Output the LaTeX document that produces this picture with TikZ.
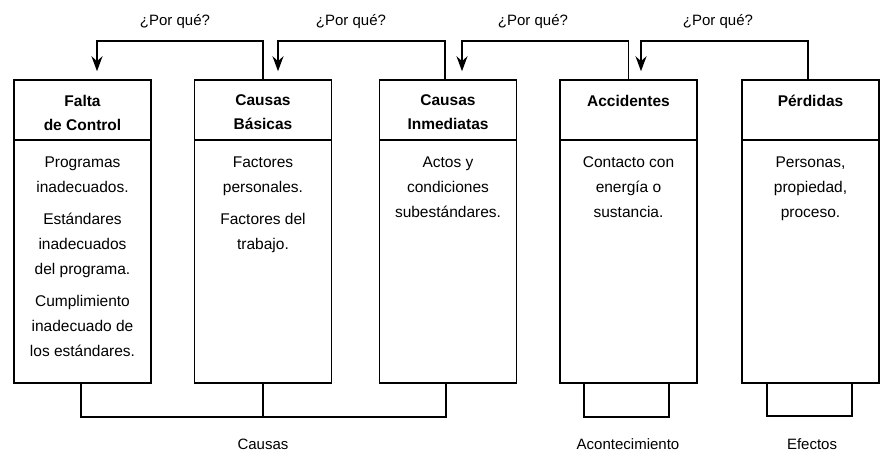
\documentclass[tikz,border=0pt]{standalone}
\usepackage{fontspec}
\setmainfont{Liberation Sans}
\usetikzlibrary{arrows.meta,calc}
\begin{document}
\begin{tikzpicture}[x=1pt,y=-1pt,
  line width=1.5pt,
  hdr/.style={draw,rectangle,minimum width=137pt,minimum height=60pt,inner sep=0pt},
  bod/.style={draw,rectangle,minimum width=137pt,minimum height=243pt,inner sep=0pt},
  ttl/.style={anchor=north,align=center,font=\fontsize{15.5}{24}\selectfont\bfseries,inner sep=0pt},
  txt/.style={anchor=north,align=center,font=\fontsize{15.5}{25}\selectfont,inner sep=0pt},
  lbl/.style={font=\fontsize{15}{18}\selectfont,inner sep=0pt},
  arr/.style={-{Stealth[length=15pt,width=11pt]}},
  brk/.style={line width=1.5pt}
]
\useasboundingbox (0,0) rectangle (880,453);
% boxes
\foreach \n/\cx in {1/82.5,2/263,3/448,4/628.5,5/810.5}{
  \node[hdr] (h\n) at (\cx,110) {};
  \node[bod] (b\n) at (\cx,261.5) {};
}
% titles
\node[ttl] (t1) at ($(h1.north)+(0,15)$) {Falta\\de Control};
\node[ttl] (t2) at ($(h2.north)+(0,15)$) {Causas\\Básicas};
\node[ttl] (t3) at ($(h3.north)+(0,15)$) {Causas\\Inmediatas};
\node[ttl] (t4) at ($(h4.north)+(0,15)$) {Accidentes};
\node[ttl] (t5) at ($(h5.north)+(0,15)$) {Pérdidas};
% body texts
\node[txt] (x1a) at ($(b1.north)+(0,17)$) {Programas\\inadecuados.};
\node[txt] (x1b) at ($(b1.north)+(0,73)$) {Estándares\\inadecuados\\del programa.};
\node[txt] (x1c) at ($(b1.north)+(0,155)$) {Cumplimiento\\inadecuado de\\los estándares.};
\node[txt] (x2a) at ($(b2.north)+(0,17)$) {Factores\\personales.};
\node[txt] (x2b) at ($(b2.north)+(0,73)$) {Factores del\\trabajo.};
\node[txt] (x3) at ($(b3.north)+(0,17)$) {Actos y\\condiciones\\subestándares.};
\node[txt] (x4) at ($(b4.north)+(0,17)$) {Contacto con\\energía o\\sustancia.};
\node[txt] (x5) at ($(b5.north)+(0,17)$) {Personas,\\propiedad,\\proceso.};
% top arrows
\coordinate (a1) at ($(h1.north)+(14.5,-8)$);
\coordinate (a2) at ($(h2.north)+(15,-8)$);
\coordinate (a3) at ($(h3.north)+(14,-8)$);
\coordinate (a4) at ($(h4.north)+(12.5,-8)$);
\coordinate (s1) at ($(h2.north)+(0,0)$);
\coordinate (s2) at ($(h3.north)+(-3,0)$);
\coordinate (s3) at ($(h4.north)+(0,0)$);
\coordinate (s4) at ($(h5.north)+(-2.5,0)$);
\foreach \i in {1,2,3,4}{
  \draw[arr] (s\i) -- ($(s\i)!1!(s\i |- 0,41)$) -| (a\i);
}
\node[lbl] (q1) at (175,22) {¿Por qué?};
\node[lbl] (q2) at (351,22) {¿Por qué?};
\node[lbl] (q3) at (533,22) {¿Por qué?};
\node[lbl] (q4) at (718,22) {¿Por qué?};
% bottom brackets
\coordinate (l1) at ($(b1.south)+(-1.5,0)$);
\coordinate (l3) at ($(b3.south)+(-2,0)$);
\coordinate (l4) at ($(b4.south)+(-44.5,0)$);
\coordinate (r4) at ($(b4.south)+(40.5,0)$);
\coordinate (l5) at ($(b5.south)+(-43.5,0)$);
\coordinate (r5) at ($(b5.south)+(41.5,0)$);
\draw[brk] (l1) -- ++(0,33) -| (l3);
\draw[brk] (b2.south) -- ++(0,33);
\draw[brk] (l4) -- ++(0,33) -| (r4);
\draw[brk] (l5) -- ++(0,32) -| (r5);
\node[lbl] (c1) at (263,444) {Causas};
\node[lbl] (c2) at (628,444) {Acontecimiento};
\node[lbl] (c3) at (812,444) {Efectos};
\end{tikzpicture}
\end{document}
